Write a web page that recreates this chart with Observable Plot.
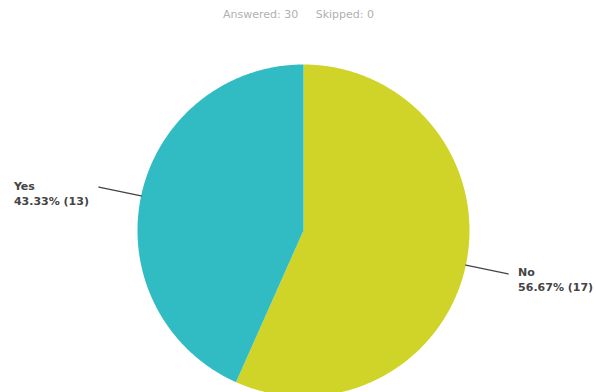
<!DOCTYPE html>
<html>
<head>
<meta charset="utf-8">
<script src="https://cdn.jsdelivr.net/npm/d3@7"></script>
<script src="https://cdn.jsdelivr.net/npm/@observablehq/plot@0.6"></script>
<style>
  html, body { margin: 0; padding: 0; background: #fff; }
  #chart { width: 596px; height: 392px; }
</style>
</head>
<body>
<div id="chart"></div>
<script>
// ---- data ----
const categories = ["No", "Yes"];
const counts = [17, 13];
const percents = [56.67, 43.33];
const colors = ["#d0d428", "#31bcc4"];
const answered = 30;
const skipped = 0;

// ---- layout config ----
const W = 596, H = 392;
const cx = 303, cy = 230, R = 166; // pixel centre & radius
const leaderR = 1.26;              // leader end, in radius units

// pie angles (clockwise from 12 o'clock)
const pie = d3.pie().sort(null).value(d => d.count).startAngle(0).endAngle(2 * Math.PI);
const rows = categories.map((c, i) => ({label: c, count: counts[i], pct: percents[i], color: colors[i]}));
const arcs = pie(rows);

// polygon outline for each slice in unit-radius coordinates
const poly = [];
for (const a of arcs) {
  const steps = Math.max(2, Math.ceil((a.endAngle - a.startAngle) / (Math.PI / 360)));
  poly.push({label: a.data.label, color: a.data.color, x: 0, y: 0});
  for (let k = 0; k <= steps; k++) {
    const t = a.startAngle + (a.endAngle - a.startAngle) * k / steps;
    poly.push({label: a.data.label, color: a.data.color, x: Math.sin(t), y: Math.cos(t)});
  }
  poly.push({label: a.data.label, color: a.data.color, x: 0, y: 0});
}

// leader lines & labels
const leaders = [];
const labels = [];
for (const a of arcs) {
  const m = (a.startAngle + a.endAngle) / 2;
  leaders.push({label: a.data.label, x: Math.sin(m), y: Math.cos(m)});
  leaders.push({label: a.data.label, x: leaderR * Math.sin(m), y: leaderR * Math.cos(m)});
  labels.push({
    side: Math.sin(m) < 0 ? "left" : "right",
    x: leaderR * Math.sin(m), y: leaderR * Math.cos(m),
    text: `${a.data.label}\n${a.data.pct.toFixed(2)}% (${a.data.count})`
  });
}

const font = "DejaVu Sans, Verdana, sans-serif";

const chart = Plot.plot({
  width: W,
  height: H,
  margin: 0,
  style: {background: "#fff", fontFamily: font},
  x: {type: "linear", domain: [-cx / R, (W - cx) / R], axis: null},
  y: {type: "linear", domain: [-(H - cy) / R, cy / R], axis: null},
  marks: [
    Plot.line(poly, {x: "x", y: "y", z: "label", fill: "color", stroke: "none", curve: "linear"}),
    Plot.line(leaders, {x: "x", y: "y", z: "label", stroke: "#444", strokeWidth: 1.3}),
    Plot.text(labels.filter(d => d.side === "left"), {
      x: "x", y: "y", text: "text", textAnchor: "start", lineAnchor: "middle",
      dx: -85, dy: 6, fontSize: 11, fontWeight: "bold", fill: "#444", lineHeight: 1.3
    }),
    Plot.text(labels.filter(d => d.side === "right"), {
      x: "x", y: "y", text: "text", textAnchor: "start", lineAnchor: "middle",
      dx: 10, dy: 5, fontSize: 11, fontWeight: "bold", fill: "#444", lineHeight: 1.3
    }),
    Plot.text([`Answered: ${answered}     Skipped: ${skipped}`], {
      frameAnchor: "top", dx: 0, dy: 10, fontSize: 11, fill: "#b0b0b0", lineAnchor: "top"
    })
  ]
});
document.getElementById("chart").appendChild(chart);
</script>
</body>
</html>
